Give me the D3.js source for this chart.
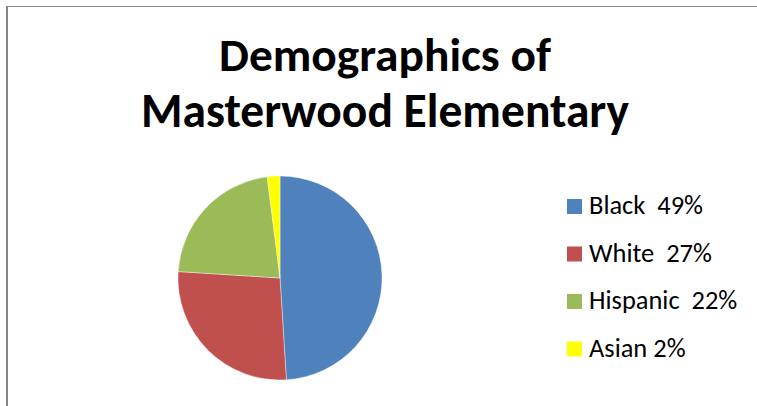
<!DOCTYPE html>
<html>
<head>
<meta charset="utf-8">
<script src="https://cdn.jsdelivr.net/npm/d3@7"></script>
<style>
  html, body { margin: 0; padding: 0; background: #fff; }
  svg { display: block; }
  text { white-space: pre; }
</style>
</head>
<body>
<svg id="chart" width="757" height="406"></svg>
<script>
// Student demographics, share of enrolment (%)
const categories = ["Black", "White", "Hispanic", "Asian"];
const values = [49, 27, 22, 2];
const legendLabels = ["Black  49%", "White  27%", "Hispanic  22%", "Asian 2%"];
const colors = ["#4F81BD", "#C0504D", "#9BBB59", "#FFFF00"];
const titleLines = ["Demographics of", "Masterwood Elementary"];

const svg = d3.select("#chart");
const W = 757, H = 406;
const fontFamily = "Carlito, Calibri, Lato, 'Open Sans', sans-serif";

// Fit a text element to a given width by adjusting its font size
function fitWidth(sel, target) {
  const node = sel.node();
  const size = parseFloat(sel.attr("font-size"));
  const w = node.getComputedTextLength();
  if (w > 0) sel.attr("font-size", size * target / w);
}

// chart-area frame (top and left edges visible)
svg.append("line").attr("x1", 6).attr("x2", W).attr("y1", 6.5).attr("y2", 6.5)
  .attr("stroke", "#868686").attr("stroke-width", 1);
svg.append("line").attr("x1", 7).attr("x2", 7).attr("y1", 6).attr("y2", H)
  .attr("stroke", "#868686").attr("stroke-width", 2);

// title
const titleX = 385;
const titleBaselines = [71, 127];
const titleWidths = [332, 488];
titleLines.forEach((t, i) => {
  const el = svg.append("text")
    .attr("x", titleX).attr("y", titleBaselines[i])
    .attr("text-anchor", "middle")
    .attr("font-family", fontFamily)
    .attr("font-weight", "bold")
    .attr("font-size", 40)
    .attr("fill", "#000")
    .text(t);
  fitWidth(el, titleWidths[i]);
});

// pie
const cx = 280, cy = 278, r = 102;
const pie = d3.pie().sort(null).value(d => d.value);
const arc = d3.arc().innerRadius(0).outerRadius(r);
const data = categories.map((c, i) => ({ name: c, value: values[i], color: colors[i] }));

svg.append("g").attr("transform", `translate(${cx},${cy})`)
  .selectAll("path")
  .data(pie(data))
  .join("path")
  .attr("d", arc)
  .attr("fill", d => d.data.color)
  .attr("stroke", "#ffffff")
  .attr("stroke-opacity", 0.5)
  .attr("stroke-width", 0.75)
  .attr("stroke-linejoin", "round");

// legend
const legendX = 567, textX = 589, sw = 15;
const rowY = d3.scalePoint().domain(categories).range([214, 356.5]);
const legend = svg.append("g");
const rows = legend.selectAll("g").data(data).join("g");
rows.append("rect")
  .attr("x", legendX)
  .attr("y", d => rowY(d.name) - sw)
  .attr("width", sw).attr("height", sw)
  .attr("fill", d => d.color);
const labels = rows.append("text")
  .attr("x", textX)
  .attr("y", d => rowY(d.name))
  .attr("font-family", fontFamily)
  .attr("font-size", 26)
  .attr("fill", "#000")
  .text((d, i) => legendLabels[i]);
// size legend type so "Black  49%" spans its measured width
const first = labels.filter((d, i) => i === 0);
const base = first.node().getComputedTextLength();
if (base > 0) labels.attr("font-size", 26 * 114 / base);
</script>
</body>
</html>
